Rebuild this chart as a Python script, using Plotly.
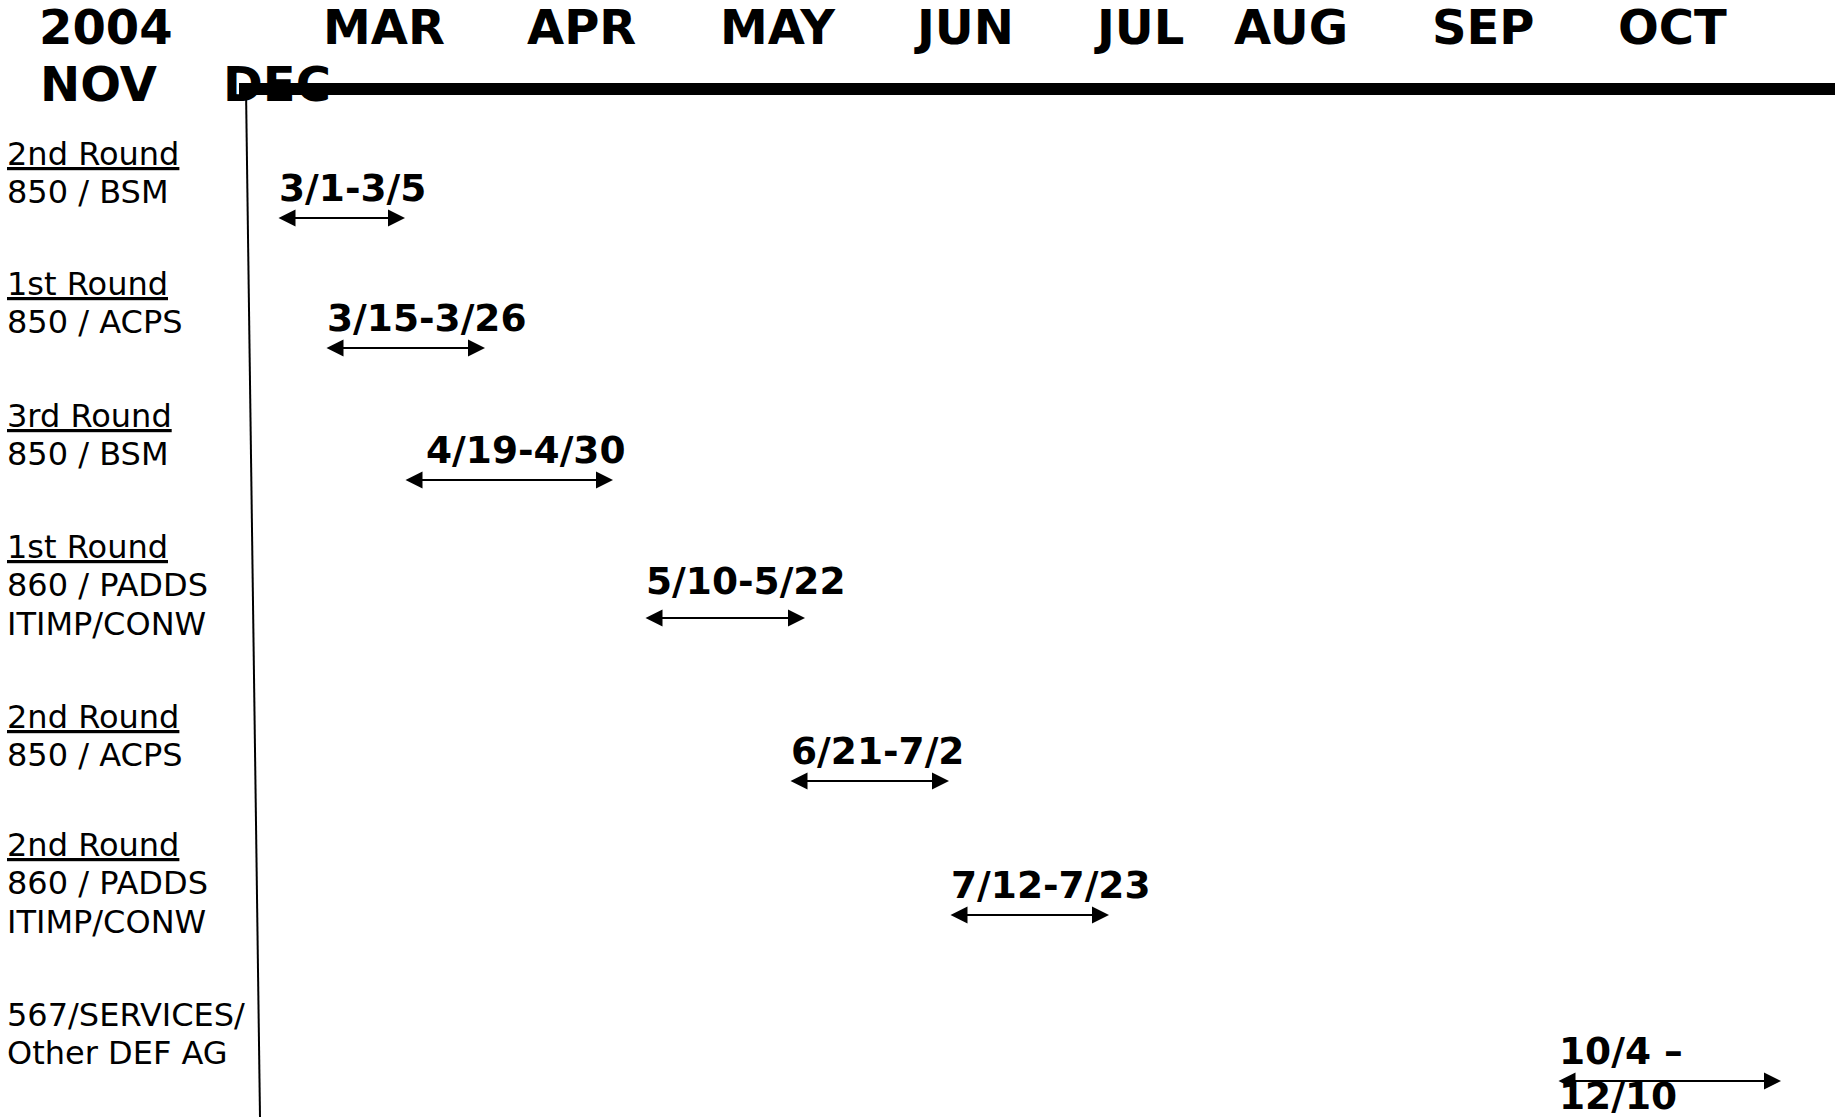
import plotly.graph_objects as go

# ---------------- data ----------------
# header (timeline month labels), first and second text line
header_row1 = ["2004", "MAR", "APR", "MAY", "JUN", "JUL", "AUG", "SEP", "OCT"]
header_row1_at = [106, 384, 581, 778, 964, 1139, 1291, 1483, 1672]
header_row2 = ["NOV", "DEC"]
header_row2_at = [98, 277]

# activities (one per row)
round_names = ["2nd Round", "1st Round", "3rd Round", "1st Round",
               "2nd Round", "2nd Round", ""]
unit_names = ["850 / BSM", "850 / ACPS", "850 / BSM",
              "860 / PADDS<br>ITIMP/CONW", "850 / ACPS",
              "860 / PADDS<br>ITIMP/CONW", "567/SERVICES/<br>Other DEF AG"]
date_ranges = ["3/1-3/5", "3/15-3/26", "4/19-4/30", "5/10-5/22",
               "6/21-7/2", "7/12-7/23", "10/4 –<br>12/10"]
# start / end of each period on the (schematic) timeline axis
range_start = [277, 325, 404, 644, 789, 949, 1557]
range_end = [405, 485, 613, 805, 949, 1109, 1781]
# row position of each activity on the vertical axis
row_pos = [218, 348, 480, 618, 781, 915, 1081]

# ---------------- styling ----------------
W, H = 1845, 1117
FONT = "DejaVu Sans"
HEAD_SIZE = 48
DATE_SIZE = 37.5
LABEL_SIZE = 32
LABEL_LINE = 38.3   # line spacing of row labels
DATE_LINE = 45      # line spacing of wrapped date labels
date_dx = {2: 20}                 # extra horizontal offset of some date labels
date_dy = {3: -7}                 # extra vertical offset of some date labels
row_label_dy = {3: -7, 5: -6, 6: -2}  # extra vertical offset of some row labels

fig = go.Figure()
# invisible trace so the axes exist
fig.add_trace(go.Scatter(x=[0, W], y=[0, H], mode="markers",
                         marker=dict(opacity=0), hoverinfo="skip",
                         showlegend=False))

annotations = []


def add_text(x, y, txt, size, anchor="left", yanchor="top"):
    annotations.append(dict(x=x, y=y, xref="x", yref="y", text=txt,
                            showarrow=False, xanchor=anchor, yanchor=yanchor,
                            align="left",
                            font=dict(family=FONT, size=size, color="black")))


# header labels
for txt, xv in zip(header_row1, header_row1_at):
    add_text(xv, 27, f"<b>{txt}</b>", HEAD_SIZE, "center", "middle")
for txt, xv in zip(header_row2, header_row2_at):
    add_text(xv, 84, f"<b>{txt}</b>", HEAD_SIZE, "center", "middle")

for i in range(len(row_pos)):
    yv = row_pos[i]
    # left row label, one line at a time
    lines = ([f"<u>{round_names[i]}</u>"] if round_names[i] else []) + unit_names[i].split("<br>")
    for k, line in enumerate(lines):
        add_text(5, yv - 85 + row_label_dy.get(i, 0) + k * LABEL_LINE, line, LABEL_SIZE)
    # double-headed arrow spanning the period
    annotations.append(dict(x=range_end[i], y=yv,
                            ax=range_start[i], ay=yv,
                            xref="x", yref="y", axref="x", ayref="y", text="",
                            showarrow=True, arrowside="end+start",
                            arrowhead=2, startarrowhead=2,
                            arrowsize=1.7, startarrowsize=1.7,
                            arrowwidth=2, arrowcolor="black"))
    # date range label
    for k, line in enumerate(date_ranges[i].split("<br>")):
        add_text(range_start[i] + date_dx.get(i, 0),
                 yv - 54 + date_dy.get(i, 0) + k * DATE_LINE,
                 f"<b>{line}</b>", DATE_SIZE)

shapes = [
    # thick timeline bar
    dict(type="line", xref="x", yref="y", x0=239, x1=1835, y0=89, y1=89,
         line=dict(color="black", width=12)),
    # thin separator between labels and timeline
    dict(type="line", xref="x", yref="y", x0=246, x1=260, y0=89, y1=H,
         line=dict(color="black", width=2)),
]

fig.update_layout(
    width=W, height=H,
    margin=dict(l=0, r=0, t=0, b=0),
    paper_bgcolor="white", plot_bgcolor="white",
    xaxis=dict(range=[0, W], visible=False, fixedrange=True),
    yaxis=dict(range=[H, 0], visible=False, fixedrange=True),
    annotations=annotations,
    shapes=shapes,
    showlegend=False,
)

fig.write_html("out.html", config={"displayModeBar": False},
               post_script="document.body.style.margin='0';document.body.style.overflow='hidden';")
